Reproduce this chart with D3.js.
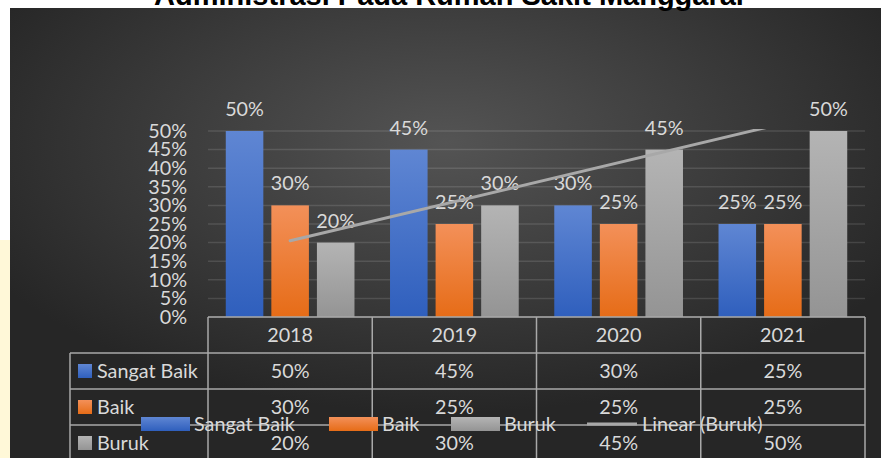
<!DOCTYPE html>
<html>
<head>
<meta charset="utf-8">
<script src="https://cdn.jsdelivr.net/npm/d3@7"></script>
<style>
  html, body { margin: 0; padding: 0; background: #fff; }
  svg { display: block; }
</style>
</head>
<body>
<svg id="chart"></svg>
<script>
// data
var years = ["2018", "2019", "2020", "2021"]
var seriesNames = ["Sangat Baik", "Baik", "Buruk"]
var sangatBaik = [0.50, 0.45, 0.30, 0.25]
var baik = [0.30, 0.25, 0.25, 0.25]
var buruk = [0.20, 0.30, 0.45, 0.50]
var yTicks = [0, 0.05, 0.10, 0.15, 0.20, 0.25, 0.30, 0.35, 0.40, 0.45, 0.50]
var titleText = "Administrasi Pada Rumah Sakit Manggarai"

var values = [sangatBaik, baik, buruk]
var series = seriesNames.map((n, i) => ({name: n, value: values[i]}))

var width = 881, height = 458
var margin = ({top: 131, right: 16, bottom: 141, left: 208})
var textColor = "#d9d9d9"
var font = "Lato, 'Open Sans', sans-serif"
var fs = 19.8

var svg = d3.select("#chart")
    .attr("width", width)
    .attr("height", height)
    .attr("viewBox", [0, 0, width, height])

var defs = svg.append("defs")

// background radial gradient
var bg = defs.append("radialGradient").attr("id", "bg")
    .attr("cx", "0.5").attr("cy", "0.3").attr("r", "0.6")
bg.append("stop").attr("offset", "0%").attr("stop-color", "#545454")
bg.append("stop").attr("offset", "100%").attr("stop-color", "#262626")

var colors = [
    {top: "#5f86d3", bottom: "#2f5fbd"},
    {top: "#f39059", bottom: "#e66c17"},
    {top: "#b4b4b4", bottom: "#949494"}
]
colors.forEach(function(c, i){
    var g = defs.append("linearGradient").attr("id", "grad" + i)
        .attr("x1", 0).attr("y1", 0).attr("x2", 0).attr("y2", 1)
    g.append("stop").attr("offset", "0%").attr("stop-color", c.top)
    g.append("stop").attr("offset", "100%").attr("stop-color", c.bottom)
})

// page decoration on the left edge
svg.append("rect").attr("x", 0).attr("y", 240).attr("width", 10).attr("height", 218)
    .attr("fill", "#fff8d8")

svg.append("rect")
    .attr("x", 10).attr("y", 8)
    .attr("width", width - 10).attr("height", height - 8)
    .attr("fill", "url(#bg)")

// title (cut off at top)
svg.append("text")
    .attr("x", 449).attr("y", 5)
    .attr("text-anchor", "middle")
    .attr("font-family", "'Liberation Sans', Arial, sans-serif")
    .attr("font-weight", "bold")
    .attr("font-size", 29)
    .attr("fill", "#000")
    .text(titleText)

var x0 = d3.scaleBand()
    .domain(years)
    .range([margin.left, width - margin.right])
    .paddingInner(0).paddingOuter(0)

var x1 = d3.scaleBand()
    .domain(seriesNames)
    .range([0, x0.bandwidth()])
    .paddingInner(0.176).paddingOuter(0.39)

var y = d3.scaleLinear()
    .domain([0, 0.5])
    .range([height - margin.bottom, margin.top])

// gridlines
svg.append("g")
    .selectAll("line")
    .data(yTicks)
    .join("line")
    .attr("x1", margin.left).attr("x2", width - margin.right)
    .attr("y1", d => y(d)).attr("y2", d => y(d))
    .attr("stroke", "#ffffff").attr("stroke-opacity", 0.12)
    .attr("stroke-width", 1.5)

// y axis
var yAxis = g => g
    .attr("transform", `translate(${margin.left},0)`)
    .call(d3.axisLeft(y).tickValues(yTicks).tickFormat(d3.format(".0%")).tickSize(0).tickPadding(21))
    .call(g => g.select(".domain").remove())
    .call(g => g.selectAll("text")
        .attr("fill", textColor)
        .attr("font-family", font)
        .attr("font-size", fs))
svg.append("g").call(yAxis)

// bars
var groups = svg.append("g")
    .selectAll("g")
    .data(series)
    .join("g")
    .attr("fill", (d, i) => "url(#grad" + i + ")")

groups.selectAll("rect")
    .data(d => d.value.map((v, i) => ({name: d.name, year: years[i], v: v})))
    .join("rect")
    .attr("x", d => x0(d.year) + x1(d.name))
    .attr("width", x1.bandwidth())
    .attr("y", d => y(d.v))
    .attr("height", d => y(0) - y(d.v))

// trendline for Buruk
var idx = d3.range(1, years.length + 1)
var mx = d3.mean(idx), my = d3.mean(buruk)
var slope = d3.sum(idx, (t, i) => (t - mx) * (buruk[i] - my)) / d3.sum(idx, t => (t - mx) * (t - mx))
var icpt = my - slope * mx
var xc = t => x0(years[0]) + x0.bandwidth() / 2 + (t - 1) * x0.step()

defs.append("clipPath").attr("id", "plotclip")
    .append("rect")
    .attr("x", margin.left).attr("y", y(0.5) - 2)
    .attr("width", width - margin.right - margin.left)
    .attr("height", y(0) - y(0.5) + 2)

svg.append("line")
    .attr("clip-path", "url(#plotclip)")
    .attr("x1", xc(1)).attr("y1", y(slope * 1 + icpt))
    .attr("x2", xc(years.length)).attr("y2", y(slope * years.length + icpt))
    .attr("stroke", "#a8a8a8")
    .attr("stroke-width", 3)
    .attr("stroke-linecap", "round")

// data labels
groups.selectAll("text")
    .data(d => d.value.map((v, i) => ({name: d.name, year: years[i], v: v})))
    .join("text")
    .attr("x", d => x0(d.year) + x1(d.name) + x1.bandwidth() / 2)
    .attr("y", d => y(d.v) - 15)
    .attr("text-anchor", "middle")
    .attr("fill", textColor)
    .attr("font-family", font)
    .attr("font-size", fs)
    .text(d => d3.format(".0%")(d.v))

// data table
var tableLeft = 70
var rowH = 36
var tTop = y(0)
var tableColor = "#a9a9a9"
var table = svg.append("g")
    .attr("stroke", tableColor).attr("stroke-width", 1.5).attr("fill", "none")

table.append("line")
    .attr("x1", margin.left).attr("x2", width - margin.right)
    .attr("y1", tTop).attr("y2", tTop)
table.selectAll(".hrow")
    .data(d3.range(1, seriesNames.length + 2))
    .join("line")
    .attr("x1", tableLeft).attr("x2", width - margin.right)
    .attr("y1", i => tTop + i * rowH).attr("y2", i => tTop + i * rowH)
table.selectAll(".vcol")
    .data(years.concat(["end"]))
    .join("line")
    .attr("x1", (d, i) => margin.left + i * x0.step())
    .attr("x2", (d, i) => margin.left + i * x0.step())
    .attr("y1", tTop).attr("y2", height + 5)
table.append("line")
    .attr("x1", tableLeft).attr("x2", tableLeft)
    .attr("y1", tTop + rowH).attr("y2", height + 5)

// header labels
svg.append("g")
    .selectAll("text")
    .data(years)
    .join("text")
    .attr("x", d => x0(d) + x0.bandwidth() / 2)
    .attr("y", tTop + rowH / 2 + 7)
    .attr("text-anchor", "middle")
    .attr("fill", textColor)
    .attr("font-family", font)
    .attr("font-size", fs)
    .text(d => d)

// rows
var rows = svg.append("g")
    .selectAll("g")
    .data(series)
    .join("g")
    .attr("transform", (d, i) => `translate(0,${tTop + (i + 1) * rowH})`)

rows.append("rect")
    .attr("x", 78).attr("y", rowH / 2 - 7)
    .attr("width", 14).attr("height", 14)
    .attr("fill", (d, i) => "url(#grad" + i + ")")
rows.append("text")
    .attr("x", 97).attr("y", rowH / 2 + 7)
    .attr("fill", textColor)
    .attr("font-family", font)
    .attr("font-size", fs)
    .text(d => d.name)
rows.selectAll(".val")
    .data(d => d.value.map((v, i) => ({year: years[i], v: v})))
    .join("text")
    .attr("x", d => x0(d.year) + x0.bandwidth() / 2)
    .attr("y", rowH / 2 + 7)
    .attr("text-anchor", "middle")
    .attr("fill", textColor)
    .attr("font-family", font)
    .attr("font-size", fs)
    .text(d => d3.format(".0%")(d.v))

// legend
var legendItems = [
    {label: "Sangat Baik", x: 141, type: "rect", i: 0},
    {label: "Baik", x: 329, type: "rect", i: 1},
    {label: "Buruk", x: 451, type: "rect", i: 2},
    {label: "Linear (Buruk)", x: 587, type: "line", i: 2}
]
var legend = svg.append("g")
    .attr("transform", "translate(0,424)")
    .selectAll("g")
    .data(legendItems)
    .join("g")
    .attr("transform", d => `translate(${d.x},0)`)
legend.filter(d => d.type == "rect").append("rect")
    .attr("x", 0).attr("y", -7).attr("width", 49).attr("height", 14)
    .attr("fill", d => "url(#grad" + d.i + ")")
legend.filter(d => d.type == "line").append("line")
    .attr("x1", 0).attr("x2", 50).attr("y1", 0).attr("y2", 0)
    .attr("stroke", "#a8a8a8").attr("stroke-width", 3)
legend.append("text")
    .attr("x", d => d.type == "line" ? 55 : 53)
    .attr("y", 7)
    .attr("fill", textColor)
    .attr("font-family", font)
    .attr("font-size", fs)
    .text(d => d.label)
</script>
</body>
</html>
